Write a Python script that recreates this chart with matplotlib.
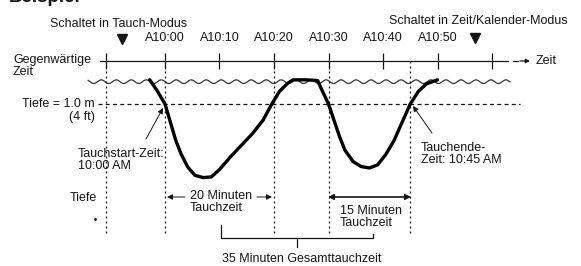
import numpy as np
import matplotlib.pyplot as plt
import matplotlib.transforms as mtransforms

plt.rcParams['font.family'] = ['Liberation Sans', 'DejaVu Sans']

# Zeitachse: Minuten ab 10:00
tick_minutes = [0, 10, 20, 30, 40, 50]
tick_labels = ["A10:00", "A10:10", "A10:20", "A10:30", "A10:40", "A10:50"]
extra_ticks = [-10.8, 60]

# Tiefenprofil (Minuten, Tiefe in m)
profile_t = [-2.8, -1.5, 0.0, 1.0, 2.0, 3.0, 4.2, 5.5, 7.0, 8.5, 10.0, 12.0, 14.0,
             16.0, 18.0, 19.6, 21.0, 22.5, 23.5, 26.0, 28.0, 29.0, 30.0, 31.0, 32.0,
             33.0, 34.5, 36.0, 37.5, 39.0, 40.5, 42.0, 43.5, 45.0, 46.5, 48.0, 50.0]
profile_d = [-0.05, 0.4, 1.0, 1.8, 2.6, 3.2, 3.75, 4.1, 4.2, 4.17, 3.85, 3.3, 2.8,
             2.3, 1.7, 1.0, 0.45, 0.1, -0.05, -0.05, -0.02, 0.5, 1.0, 1.7, 2.4,
             3.0, 3.5, 3.72, 3.78, 3.65, 3.2, 2.6, 1.8, 1.0, 0.45, 0.12, -0.05]

# Markierte Zeitpunkte (Minuten)
guide_minutes = [-10.8, 0, 20, 30, 45]
depth_limit = 1.0

W, H = 581, 266
X0, XS = 165, 5.45   # Pixel von 10:00, Pixel pro Minute
Y0, YS = 81, 23      # Pixel der Oberflaeche, Pixel pro Meter

fig = plt.figure(figsize=(W / 100, H / 100), dpi=100)
ax = fig.add_axes([0, 0, 1, 1])
ax.set_xlim(-X0 / XS, (W - X0) / XS)
ax.set_ylim((H - Y0) / YS, -Y0 / YS)
ax.axis('off')

# Pixel-Koordinaten (oben links = 0,0) fuer Beschriftungen
P = mtransforms.Affine2D().scale(1 / W, -1 / H).translate(0, 1) + fig.transFigure
B = mtransforms.blended_transform_factory(ax.transData, P)

ink = '#151515'
fs = 9
ls = 1.05

# Titel (oben abgeschnitten)
ax.text(9, 2.5, "Beispiel", transform=P, fontsize=13.5, fontweight='bold',
        color=ink, va='baseline')

ax.text(119, 24, "Schaltet in Tauch-Modus", transform=P, fontsize=fs,
        color=ink, ha='center', va='center')
ax.text(478, 21, "Schaltet in Zeit/Kalender-Modus", transform=P, fontsize=fs,
        color=ink, ha='center', va='center')
ax.plot([122, 475], [39, 38], 'v', transform=P, color=ink, ms=6.5)

# Zeitachse
ax.plot([-11.9, 62.9], [61, 61], transform=B, color=ink, lw=0.9)
ax.vlines(tick_minutes + extra_ticks, 53, 69, transform=B, color=ink, lw=0.9)
for m, lab in zip(tick_minutes, tick_labels):
    ax.text(m, 38, lab, transform=B, fontsize=fs, color=ink,
            ha='center', va='center')
ax.plot([513, 518], [61, 61], transform=P, color=ink, lw=0.9)
ax.annotate("", xy=(530, 61), xytext=(520, 61), xycoords=P, textcoords=P,
            arrowprops=dict(arrowstyle='-|>', color=ink, lw=0.9,
                            mutation_scale=6, shrinkA=0, shrinkB=0))
ax.text(536, 61, "Zeit", transform=P, fontsize=fs, color=ink, va='center')
ax.text(13, 66, "Gegenwärtige\nZeit", transform=P, fontsize=fs, color=ink,
        va='center', linespacing=1.0)

# Wasseroberflaeche (Welle)
wx = np.linspace(-14.1, 63.3, 800)
ax.plot(wx, 0.03 + 0.08 * np.sin(2 * np.pi * wx / 2.75), color='#333333', lw=0.9)

# Tiefe 1.0 m
ax.plot([-12.3, 65.1], [depth_limit, depth_limit], color=ink, lw=0.9,
        dashes=(3.2, 2.6))
ax.text(95, 104, "Tiefe = 1.0 m", transform=P, fontsize=fs, color=ink,
        ha='right', va='center')
ax.text(95, 117, "(4 ft)", transform=P, fontsize=fs, color=ink,
        ha='right', va='center')

# senkrechte Hilfslinien
for m in guide_minutes:
    ax.plot([m, m], [61, 233], transform=B, color=ink, lw=0.9, dashes=(1.6, 2.4))

# Tiefenprofil
ax.plot(profile_t, profile_d, color='black', lw=2.4, solid_joinstyle='round',
        solid_capstyle='round')

arrow = dict(arrowstyle='-|>', color=ink, lw=0.7, mutation_scale=8,
             shrinkA=0, shrinkB=0)
ax.annotate("", xy=(163, 108), xytext=(146, 139), xycoords=P, textcoords=P,
            arrowprops=arrow)
ax.text(78, 160, "Tauchstart-Zeit:\n10:00 AM", transform=P, fontsize=fs,
        color=ink, va='center', linespacing=ls)
ax.annotate("", xy=(413, 106), xytext=(432, 133), xycoords=P, textcoords=P,
            arrowprops=arrow)
ax.text(421, 154, "Tauchende-\nZeit: 10:45 AM", transform=P, fontsize=fs,
        color=ink, va='center', linespacing=ls)

ax.text(97, 198, "Tiefe", transform=P, fontsize=fs, color=ink,
        ha='right', va='center')
ax.plot([95], [219], '.', transform=P, color=ink, ms=2)

# 20 Minuten
ax.annotate("", xy=(167, 197), xytext=(185, 197), xycoords=P, textcoords=P,
            arrowprops=arrow)
ax.annotate("", xy=(272, 197), xytext=(257, 197), xycoords=P, textcoords=P,
            arrowprops=arrow)
ax.text(190, 202, "20 Minuten\nTauchzeit", transform=P, fontsize=fs,
        color=ink, va='center', linespacing=ls)

# 15 Minuten
ax.annotate("", xy=(411, 197), xytext=(328, 197), xycoords=P, textcoords=P,
            arrowprops=dict(arrowstyle='<|-|>', color=ink, lw=1.2,
                            mutation_scale=8, shrinkA=0, shrinkB=0))
ax.text(340, 217, "15 Minuten\nTauchzeit", transform=P, fontsize=fs,
        color=ink, va='center', linespacing=ls)

# Klammer Gesamttauchzeit
ax.plot([221, 221, 373, 373], [225, 238, 238, 234], transform=P,
        color=ink, lw=0.9)
ax.plot([297, 297], [238, 247], transform=P, color=ink, lw=0.9)
ax.text(302, 259, "35 Minuten Gesamttauchzeit", transform=P, fontsize=fs,
        color=ink, ha='center', va='center')

fig.savefig('out.png', dpi=100)
